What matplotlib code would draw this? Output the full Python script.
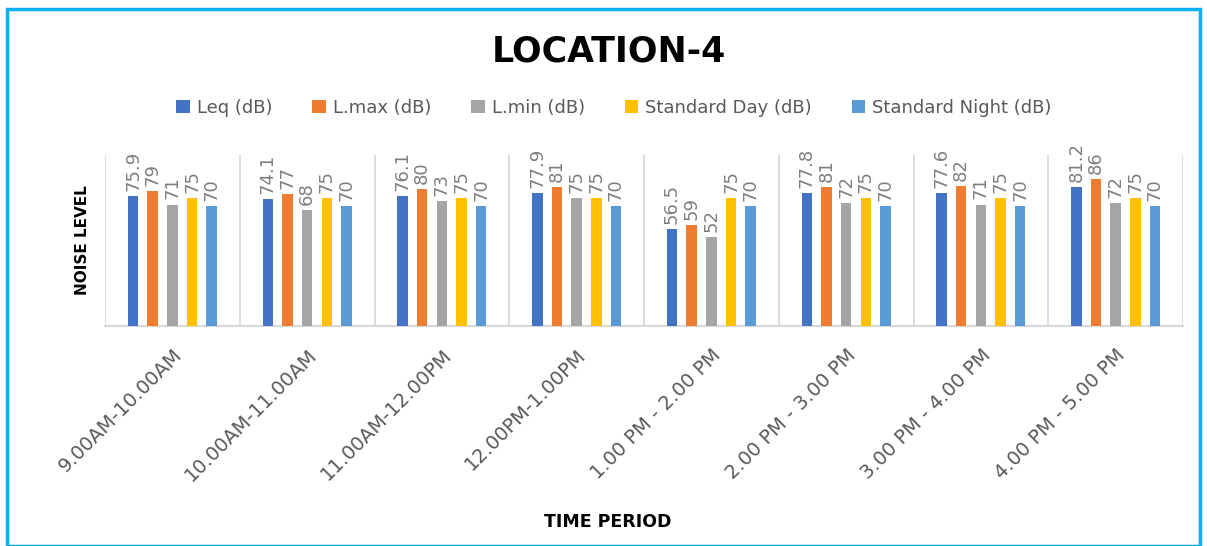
import matplotlib
matplotlib.use("Agg")
import matplotlib.pyplot as plt
import numpy as np
from matplotlib.patches import Rectangle

periods = [
    "9.00AM-10.00AM",
    "10.00AM-11.00AM",
    "11.00AM-12.00PM",
    "12.00PM-1.00PM",
    "1.00 PM - 2.00 PM",
    "2.00 PM - 3.00 PM",
    "3.00 PM - 4.00 PM",
    "4.00 PM - 5.00 PM",
]
leq = [75.9, 74.1, 76.1, 77.9, 56.5, 77.8, 77.6, 81.2]
lmax = [79, 77, 80, 81, 59, 81, 82, 86]
lmin = [71, 68, 73, 75, 52, 72, 71, 72]
std_day = [75, 75, 75, 75, 75, 75, 75, 75]
std_night = [70, 70, 70, 70, 70, 70, 70, 70]

series = [
    ("Leq (dB)", leq, "#4472C4"),
    ("L.max (dB)", lmax, "#ED7D31"),
    ("L.min (dB)", lmin, "#A5A5A5"),
    ("Standard Day (dB)", std_day, "#FFC000"),
    ("Standard Night (dB)", std_night, "#5B9BD5"),
]

W, H = 1207, 546
fig = plt.figure(figsize=(W / 100, H / 100), dpi=100)
ax = fig.add_axes([105 / W, 1 - 326 / H, (1183 - 105) / W, (326 - 155) / H])

x = np.arange(len(periods))
step = 0.146
width = 0.078
for i, (name, vals, color) in enumerate(series):
    pos = x + (i - 2) * step
    bars = ax.bar(pos, vals, width=width, color=color, label=name, zorder=3)
    for b, v in zip(bars, vals):
        ax.text(b.get_x() + b.get_width() / 2, v + 3, f"{v:g}",
                rotation=90, ha="center", va="bottom",
                fontsize=13, color="#7f7f7f")

ax.set_xlim(-0.5, len(periods) - 0.5)
ax.set_ylim(0, 100)
ax.set_yticks([])
ax.set_xticks(x)
ax.set_xticklabels(periods, rotation=45, ha="right", rotation_mode="anchor",
                   fontsize=14, color="#595959")
ax.tick_params(axis="x", length=0, pad=14)

# category separators
for b in np.arange(-0.5, len(periods), 1.0):
    ax.axvline(b, color="#D9D9D9", lw=1.3, zorder=1)
for s in ["top", "right", "left"]:
    ax.spines[s].set_visible(False)
ax.spines["bottom"].set_color("#D9D9D9")
ax.spines["bottom"].set_linewidth(1.5)

ax.set_ylabel("NOISE LEVEL", fontsize=11, fontweight="bold", labelpad=11)
fig.text(608 / W, 1 - 522 / H, "TIME PERIOD", ha="center", va="center",
         fontsize=12.5, fontweight="bold")
fig.text(609 / W, 1 - 51 / H, "LOCATION-4", ha="center", va="center",
         fontsize=25, fontweight="bold")

ax.legend(loc="center", bbox_to_anchor=(614 / W, 1 - 108 / H),
          bbox_transform=fig.transFigure, ncol=5, frameon=False,
          fontsize=13, handlelength=0.75, handleheight=0.75,
          handletextpad=0.4, columnspacing=2.2, labelcolor="#595959")

fig.patches.append(Rectangle((7 / W, 0), 1193 / W, 1 - 9 / H, transform=fig.transFigure,
                             fill=False, edgecolor="#00B0F0", lw=2.5))

fig.savefig("out.png", dpi=100)
